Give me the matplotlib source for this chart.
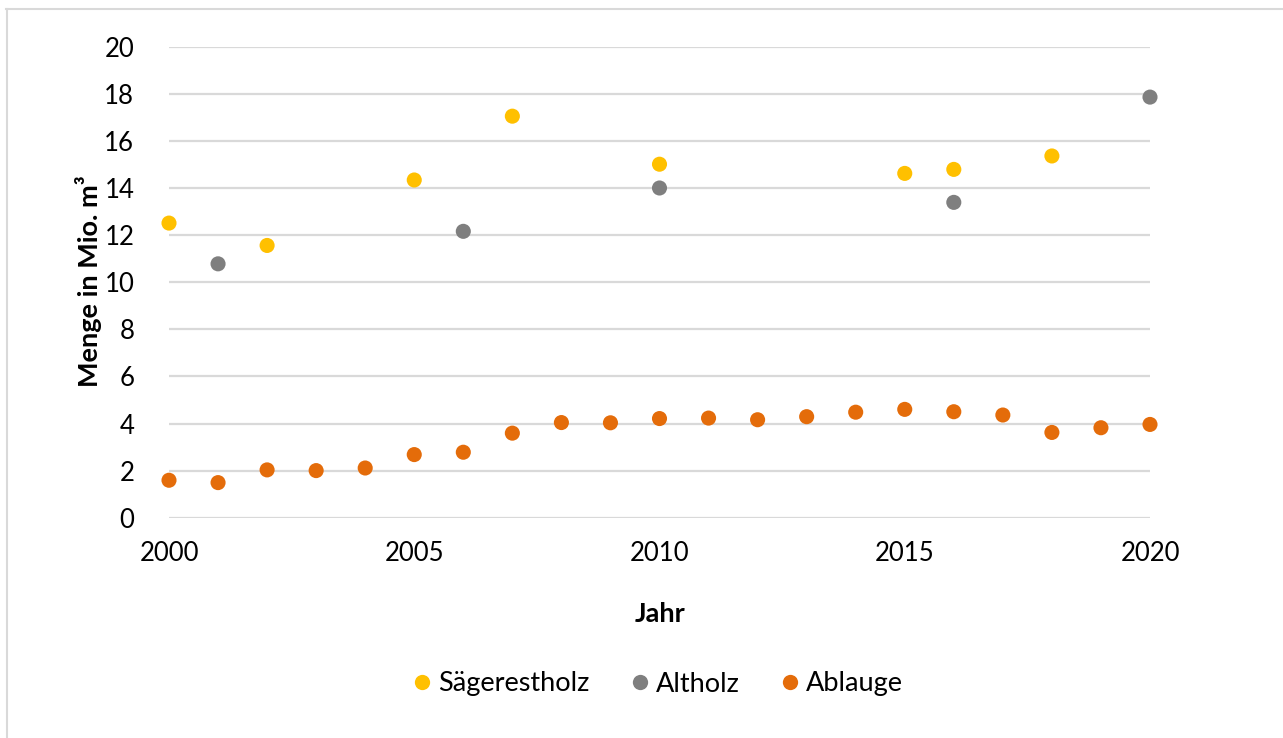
import matplotlib
matplotlib.use("Agg")
import matplotlib.pyplot as plt
from matplotlib.lines import Line2D

plt.rcParams['font.family'] = ['Lato', 'DejaVu Sans']

saege_years = [2000, 2002, 2005, 2007, 2010, 2015, 2016, 2018]
saege_vals = [12.51, 11.56, 14.34, 17.05, 15.01, 14.62, 14.79, 15.36]

alt_years = [2001, 2006, 2010, 2016, 2020]
alt_vals = [10.78, 12.16, 14.0, 13.39, 17.86]

ablauge_years = list(range(2000, 2021))
ablauge_vals = [1.59, 1.49, 2.03, 2.0, 2.11, 2.68, 2.78, 3.59, 4.04, 4.03,
                4.21, 4.23, 4.16, 4.29, 4.48, 4.6, 4.5, 4.36, 3.62, 3.82, 3.96]

series_names = ["Sägerestholz", "Altholz", "Ablauge"]
colors = ["#FFC000", "#7F7F7F", "#E46C0A"]
x_ticks = [2000, 2005, 2010, 2015, 2020]
y_ticks = list(range(0, 21, 2))

W, H = 1283, 738
fig = plt.figure(figsize=(W / 100, H / 100), dpi=100)
ax = fig.add_axes([169 / W, 1 - 517.7 / H, (1150 - 169) / W, (517.7 - 46.7) / H])

ms = 118
for yrs, vals, c, name in zip([saege_years, alt_years, ablauge_years],
                              [saege_vals, alt_vals, ablauge_vals], colors, series_names):
    ax.scatter(yrs, vals, s=ms, color=c, edgecolors='none', zorder=3, clip_on=False, label=name)

ax.set_xlim(2000, 2020)
ax.set_ylim(0, 20)
ax.set_xticks(x_ticks)
ax.set_yticks(y_ticks)
ax.tick_params(length=0, labelsize=18.5, colors='black')
ax.tick_params(axis='x', pad=17)
ax.tick_params(axis='y', pad=25)
for s in ax.spines.values():
    s.set_visible(False)
ax.grid(axis='y', color='#d9d9d9', linewidth=1.6, zorder=0)
ax.set_axisbelow(True)

fig.text(89 / W, 1 - 281 / H, "Menge in Mio. m³", rotation=90, ha='center', va='center',
         fontsize=19.5, fontweight='bold')
fig.text(660 / W, 1 - 614 / H, "Jahr", ha='center', va='center', fontsize=19.5, fontweight='bold')

handles = [Line2D([], [], marker='o', linestyle='none', markersize=11, markerfacecolor=c,
                  markeredgecolor='none') for c in colors]
fig.legend(handles, series_names, loc='center', bbox_to_anchor=(656 / W, 1 - 684 / H),
           ncol=3, frameon=False, fontsize=19.5, handletextpad=0.1, columnspacing=1.35,
           handlelength=1.0)

# outer frame lines (top and left)
fig.add_artist(Line2D([6 / W, 1], [1 - 9 / H, 1 - 9 / H], color='#d9d9d9', linewidth=1.5,
                      transform=fig.transFigure))
fig.add_artist(Line2D([7 / W, 7 / W], [0, 1 - 9 / H], color='#d9d9d9', linewidth=1.5,
                      transform=fig.transFigure))

fig.savefig("out.png", dpi=100, facecolor='white')
